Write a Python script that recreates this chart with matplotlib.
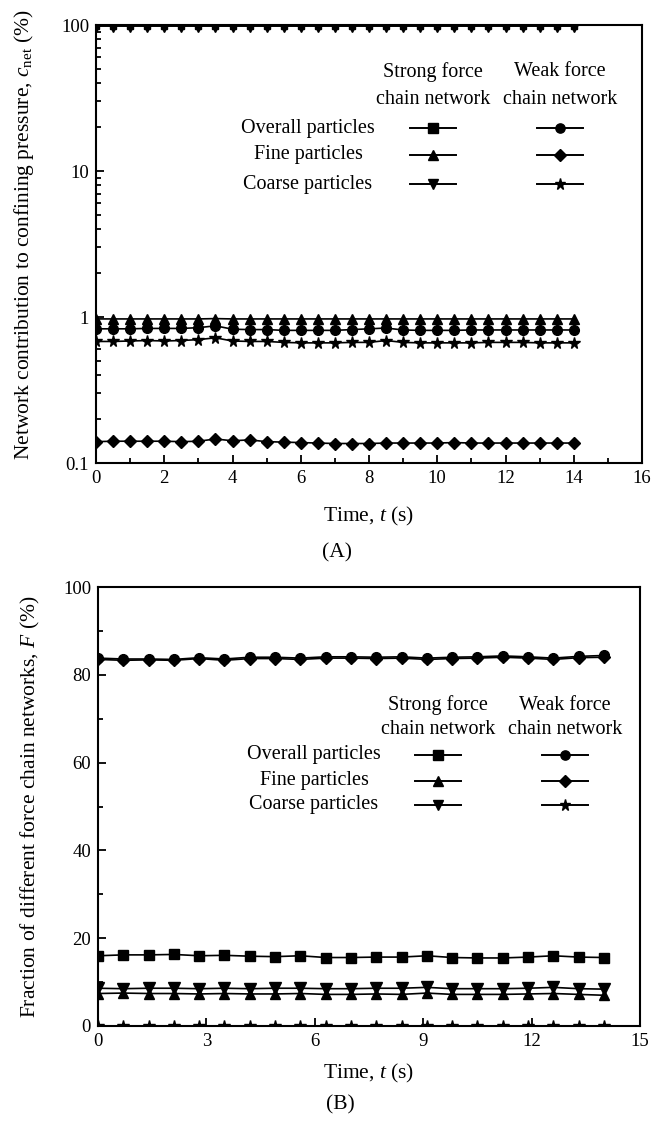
import numpy as np
import matplotlib
matplotlib.use('Agg')
import matplotlib.pyplot as plt
from matplotlib.ticker import MultipleLocator, FixedLocator, FixedFormatter, LogLocator, NullFormatter

plt.rcParams['font.family'] = ['Liberation Serif', 'DejaVu Serif']
plt.rcParams['mathtext.fontset'] = 'custom'
plt.rcParams['mathtext.rm'] = 'Liberation Serif'
plt.rcParams['mathtext.it'] = 'Liberation Serif:italic'

# (A) network contribution to confining pressure, c_net (%), sampled every 0.5 s
time_a = [0.0, 0.5, 1.0, 1.5, 2.0, 2.5, 3.0, 3.5, 4.0, 4.5, 5.0, 5.5, 6.0, 6.5, 7.0,
          7.5, 8.0, 8.5, 9.0, 9.5, 10.0, 10.5, 11.0, 11.5, 12.0, 12.5, 13.0, 13.5, 14.0]
a_strong_overall = [98.0] * 29
a_strong_fine = [0.97, 0.97, 0.97, 0.97, 0.97, 0.97, 0.97, 0.975, 0.97, 0.97, 0.97, 0.97,
                 0.97, 0.97, 0.97, 0.97, 0.97, 0.97, 0.97, 0.97, 0.97, 0.97, 0.97, 0.97,
                 0.97, 0.97, 0.97, 0.97, 0.97]
a_strong_coarse = [98.0] * 29
a_weak_overall = [0.83, 0.83, 0.83, 0.835, 0.835, 0.835, 0.845, 0.87, 0.825, 0.82, 0.82,
                  0.81, 0.81, 0.81, 0.81, 0.82, 0.83, 0.84, 0.815, 0.81, 0.81, 0.81, 0.815,
                  0.815, 0.815, 0.815, 0.815, 0.815, 0.815]
a_weak_fine = [0.140, 0.141, 0.141, 0.141, 0.141, 0.140, 0.141, 0.146, 0.142, 0.144, 0.140,
               0.139, 0.138, 0.137, 0.136, 0.136, 0.136, 0.137, 0.137, 0.137, 0.137, 0.138,
               0.137, 0.137, 0.137, 0.137, 0.137, 0.137, 0.137]
a_weak_coarse = [0.68, 0.68, 0.685, 0.69, 0.685, 0.69, 0.70, 0.72, 0.685, 0.68, 0.68, 0.67,
                 0.665, 0.665, 0.665, 0.67, 0.67, 0.69, 0.67, 0.665, 0.665, 0.665, 0.665,
                 0.67, 0.67, 0.67, 0.665, 0.665, 0.665]

# (B) fraction of force chain networks, F (%), sampled every 0.7 s
time_b = [0.0, 0.7, 1.4, 2.1, 2.8, 3.5, 4.2, 4.9, 5.6, 6.3, 7.0, 7.7, 8.4, 9.1, 9.8,
          10.5, 11.2, 11.9, 12.6, 13.3, 14.0]
b_strong_overall = [16.0, 16.2, 16.2, 16.3, 16.0, 16.1, 15.9, 15.8, 16.0, 15.6, 15.6, 15.7,
                    15.7, 16.0, 15.6, 15.5, 15.5, 15.7, 16.0, 15.7, 15.6]
b_strong_fine = [7.4, 7.5, 7.4, 7.4, 7.3, 7.4, 7.3, 7.3, 7.4, 7.2, 7.2, 7.3, 7.2, 7.5, 7.2,
                 7.2, 7.2, 7.3, 7.4, 7.2, 7.0]
b_strong_coarse = [8.6, 8.5, 8.6, 8.6, 8.5, 8.6, 8.5, 8.6, 8.6, 8.5, 8.5, 8.6, 8.6, 8.8, 8.5,
                   8.5, 8.5, 8.6, 8.8, 8.5, 8.4]
b_weak_overall = [83.8, 83.6, 83.6, 83.5, 83.9, 83.6, 84.0, 84.0, 83.8, 84.1, 84.1, 84.0,
                  84.1, 83.8, 84.0, 84.1, 84.3, 84.1, 83.8, 84.2, 84.4]
b_weak_fine = [83.5, 83.3, 83.4, 83.3, 83.7, 83.3, 83.7, 83.7, 83.5, 83.8, 83.8, 83.7, 83.8,
               83.5, 83.7, 83.8, 84.0, 83.8, 83.5, 83.9, 84.0]
b_weak_coarse = [0.1] * 21

row_names = ['Overall particles', 'Fine particles', 'Coarse particles']
strong_markers = ['s', '^', 'v']
weak_markers = ['o', 'D', '*']
marker_sizes = {'s': 7, '^': 7.5, 'v': 8, 'o': 7, 'D': 6, '*': 8.5}

TICK_FS = 13.5
LABEL_FS = 15.5
KEY_FS = 14.5


def draw_series(ax, t, values, marker, ms=None, zorder=2):
    ax.plot(t, values, color='k', lw=1.2, marker=marker,
            ms=ms if ms else marker_sizes[marker], mfc='k', mec='k', zorder=zorder)


def draw_key(ax, cols, rows, header_y, half):
    """Two-column key: row names on the left, strong/weak symbols in columns."""
    tr = ax.transAxes
    name_x, strong_x, weak_x = cols
    for x, head in [(strong_x, 'Strong force'), (weak_x, 'Weak force')]:
        ax.text(x, header_y[0], head, transform=tr, ha='center', va='center', fontsize=KEY_FS)
        ax.text(x, header_y[1], 'chain network', transform=tr, ha='center', va='center',
                fontsize=KEY_FS)
    for name, y, ms_, mw_ in zip(row_names, rows, strong_markers, weak_markers):
        ax.text(name_x, y, name, transform=tr, ha='center', va='center', fontsize=KEY_FS)
        for x, m in [(strong_x, ms_), (weak_x, mw_)]:
            ax.plot([x - half, x + half], [y, y], transform=tr, color='k', lw=1.4,
                    clip_on=False)
            ax.plot([x], [y], transform=tr, marker=m, ms=marker_sizes[m] * 0.95,
                    color='k', clip_on=False)


def style_axes(ax):
    for sp in ax.spines.values():
        sp.set_linewidth(1.5)
    ax.tick_params(which='both', direction='in', top=False, right=False,
                   labelsize=TICK_FS, width=1.3)
    ax.tick_params(which='major', length=6, pad=5)
    ax.tick_params(which='minor', length=3.5)


fig = plt.figure(figsize=(6.54, 11.22), dpi=100)
W, H = 654.0, 1122.0

# ---- (A) ----
ax1 = fig.add_axes([96 / W, 1 - 463 / H, (642 - 96) / W, (463 - 25) / H])
ax1.set_yscale('log')
draw_series(ax1, time_a, a_strong_overall, 's', ms=5, zorder=1.9)
draw_series(ax1, time_a, a_strong_coarse, 'v')
draw_series(ax1, time_a, a_strong_fine, '^')
draw_series(ax1, time_a, a_weak_overall, 'o')
draw_series(ax1, time_a, a_weak_coarse, '*')
draw_series(ax1, time_a, a_weak_fine, 'D')
ax1.set_xlim(0, 16)
ax1.set_ylim(0.1, 100)
ax1.xaxis.set_major_locator(MultipleLocator(2))
ax1.xaxis.set_minor_locator(MultipleLocator(1))
ax1.yaxis.set_major_locator(FixedLocator([0.1, 1, 10, 100]))
ax1.yaxis.set_major_formatter(FixedFormatter(['0.1', '1', '10', '100']))
ax1.yaxis.set_minor_locator(LogLocator(base=10, subs=np.arange(2, 10)))
ax1.yaxis.set_minor_formatter(NullFormatter())
style_axes(ax1)
ax1.set_xlabel('Time, $t$ (s)', fontsize=LABEL_FS, labelpad=13)
ax1.set_ylabel('Network contribution to confining pressure, $c_{\\rm net}$ (%)',
               fontsize=LABEL_FS)
ax1.yaxis.set_label_coords((36 - 96) / 546, 0.52)
draw_key(ax1, ((308 - 96) / 546, (433 - 96) / 546, (560 - 96) / 546),
         [(463 - 128) / 438, (463 - 155) / 438, (463 - 184) / 438],
         [(463 - 72) / 438, (463 - 99) / 438], 0.043)
fig.text(337 / W, 1 - 553 / H, '(A)', ha='center', va='center', fontsize=LABEL_FS)

# ---- (B) ----
ax2 = fig.add_axes([98 / W, 1 - 1026 / H, (640 - 98) / W, (1026 - 587) / H])
draw_series(ax2, time_b, b_weak_coarse, '*')
draw_series(ax2, time_b, b_strong_fine, '^')
draw_series(ax2, time_b, b_strong_coarse, 'v')
draw_series(ax2, time_b, b_strong_overall, 's')
draw_series(ax2, time_b, b_weak_fine, 'D')
draw_series(ax2, time_b, b_weak_overall, 'o')
ax2.set_xlim(0, 15)
ax2.set_ylim(0, 100)
ax2.xaxis.set_major_locator(MultipleLocator(3))
ax2.yaxis.set_major_locator(MultipleLocator(20))
ax2.yaxis.set_minor_locator(MultipleLocator(10))
style_axes(ax2)
ax2.set_xlabel('Time, $t$ (s)', fontsize=LABEL_FS, labelpad=9)
ax2.set_ylabel('Fraction of different force chain networks, $F$ (%)', fontsize=LABEL_FS)
ax2.yaxis.set_label_coords((42 - 98) / 542, 0.5)
draw_key(ax2, ((314 - 98) / 542, (438 - 98) / 542, (565 - 98) / 542),
         [(1026 - 755) / 439, (1026 - 781) / 439, (1026 - 805) / 439],
         [(1026 - 705) / 439, (1026 - 729) / 439], 0.043)
fig.text(340 / W, 1 - 1105 / H, '(B)', ha='center', va='center', fontsize=LABEL_FS)

fig.savefig('out.png', dpi=100)
